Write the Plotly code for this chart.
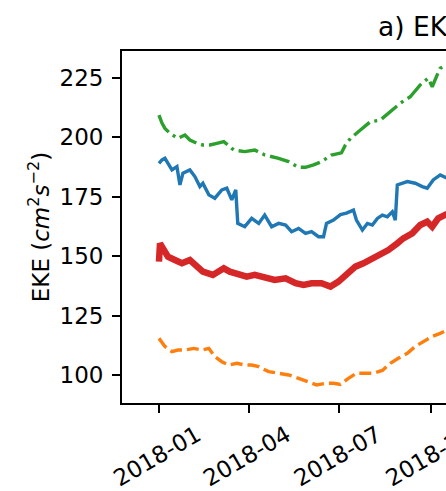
import pandas as pd
import plotly.graph_objects as go

START = "2018-01-01"

blue_days = [0, 3, 6, 9, 13, 18, 21, 24, 31, 36, 41, 44, 50, 56, 63, 68, 73, 77, 79, 86,
             93, 100, 106, 113, 120, 127, 133, 140, 147, 153, 160, 165, 168, 175, 182, 188,
             195, 198, 204, 209, 214, 219, 224, 229, 234, 237, 239, 249, 257, 264, 269, 275,
             282, 289]
blue_vals = [189.1, 190.5, 191.2, 189.1, 186.3, 187.7, 180.0, 184.9, 186.3, 183.5, 179.3,
             180.7, 175.8, 174.4, 177.9, 178.6, 173.7, 177.9, 163.8, 162.4, 165.9, 163.8,
             167.3, 162.4, 163.8, 163.1, 160.3, 161.7, 159.6, 160.3, 158.2, 158.2, 163.8,
             165.2, 167.5, 168.1, 169.4, 165.2, 161.0, 163.8, 163.1, 165.9, 167.3, 166.6,
             168.7, 165.2, 180.0, 181.4, 180.7, 179.3, 178.6, 182.1, 184.2, 182.8]

orange_days = [0, 6, 13, 19, 26, 35, 43, 50, 56, 63, 70, 78, 86, 93, 100, 110, 120, 130,
               140, 150, 158, 167, 175, 182, 190, 198, 207, 215, 224, 232, 240, 249, 257,
               265, 274, 282, 289]
orange_vals = [115.4, 112.0, 109.8, 110.5, 110.5, 111.2, 110.5, 111.2, 107.7, 105.6, 104.2,
               104.9, 104.2, 104.2, 103.5, 101.4, 100.7, 100.0, 98.6, 97.2, 95.8, 96.5, 96.5,
               96.0, 98.6, 100.7, 100.7, 100.7, 101.9, 104.9, 107.0, 109.1, 112.0, 114.0,
               116.2, 117.5, 118.9]

green_days = [0, 3, 6, 11, 19, 26, 31, 38, 44, 51, 58, 65, 75, 86, 96, 106, 120, 130, 140,
              147, 155, 163, 173, 183, 187, 192, 202, 212, 222, 232, 242, 252, 262, 270, 274,
              279, 282, 289]
green_vals = [209.4, 206.0, 203.8, 201.7, 199.6, 201.0, 198.9, 197.5, 196.8, 196.8, 197.5,
              198.2, 194.7, 194.0, 194.7, 192.6, 191.2, 189.8, 187.4, 187.4, 188.4, 189.8,
              192.6, 193.5, 196.8, 199.6, 203.1, 206.6, 207.3, 210.8, 214.4, 217.1, 222.1,
              224.9, 221.3, 226.3, 229.1, 230.5]

red_days = [0, 1, 4, 9, 16, 23, 31, 36, 44, 54, 65, 71, 78, 88, 96, 106, 116, 127, 137, 145,
            153, 163, 172, 180, 188, 197, 205, 214, 222, 230, 239, 245, 254, 262, 269, 274,
            280, 285, 289]
red_vals = [147.7, 155.4, 153.3, 149.8, 148.4, 147.0, 148.4, 146.3, 143.5, 142.1, 144.9,
            143.5, 142.8, 141.4, 142.1, 140.7, 140.0, 140.7, 138.6, 137.9, 138.6, 138.6,
            137.2, 139.3, 142.1, 145.6, 147.0, 149.1, 150.5, 152.6, 155.4, 157.5, 159.6,
            163.1, 164.5, 162.4, 165.9, 167.3, 167.8]

y_ticks = [100, 125, 150, 175, 200, 225]
title_text = "a) EKE"
y_title = "EKE (<i>cm</i><sup>2</sup><i>s</i><sup>\u22122</sup>)"


def to_dates(days):
    return pd.Timestamp(START) + pd.to_timedelta(days, unit="D")


fig = go.Figure()
fig.add_trace(go.Scatter(x=to_dates(blue_days), y=blue_vals, mode="lines",
                         line=dict(color="#1f77b4", width=3.4)))
fig.add_trace(go.Scatter(x=to_dates(orange_days), y=orange_vals, mode="lines",
                         line=dict(color="#ff7f0e", width=3.4, dash="12px,5px")))
fig.add_trace(go.Scatter(x=to_dates(green_days), y=green_vals, mode="lines",
                         line=dict(color="#2ca02c", width=3.4, dash="20px,5px,3px,5px")))
fig.add_trace(go.Scatter(x=to_dates(red_days), y=red_vals, mode="lines",
                         line=dict(color="#d62728", width=6.5)))

font = dict(family="DejaVu Sans", size=23, color="black")
fig.update_layout(
    width=446, height=491, autosize=False,
    margin=dict(l=122, r=0, t=51, b=88, pad=0),
    paper_bgcolor="white", plot_bgcolor="white",
    showlegend=False, font=font,
    xaxis=dict(
        type="date", range=["2017-11-24 22:00", "2018-10-15 20:00"],
        tick0="2018-01-01", dtick="M3", tickformat="%Y-%m",
        ticks="outside", ticklen=8, tickwidth=1.8, tickcolor="black",
        showline=True, linecolor="black", linewidth=1.8, mirror=True,
        showgrid=False, zeroline=False, tickangle=-30, tickfont=font,
        ticklabelshift=38, ticklabeloverflow="allow", automargin=False,
    ),
    yaxis=dict(
        range=[88.2, 236.36], tickvals=y_ticks,
        ticks="outside", ticklen=8, tickwidth=1.8, tickcolor="black",
        showline=True, linecolor="black", linewidth=1.8, mirror=False,
        showgrid=False, zeroline=False, tickfont=font, automargin=False,
        ticklabelstandoff=4,
        title=dict(text=y_title, font=font, standoff=4),
    ),
    annotations=[dict(text=title_text, xref="paper", yref="paper",
                      x=(376 - 122) / 324, y=1, xanchor="left", yanchor="bottom",
                      yshift=7, showarrow=False,
                      font=dict(family="DejaVu Sans", size=26.5, color="black"))],
)

fig.write_html("out.html")
